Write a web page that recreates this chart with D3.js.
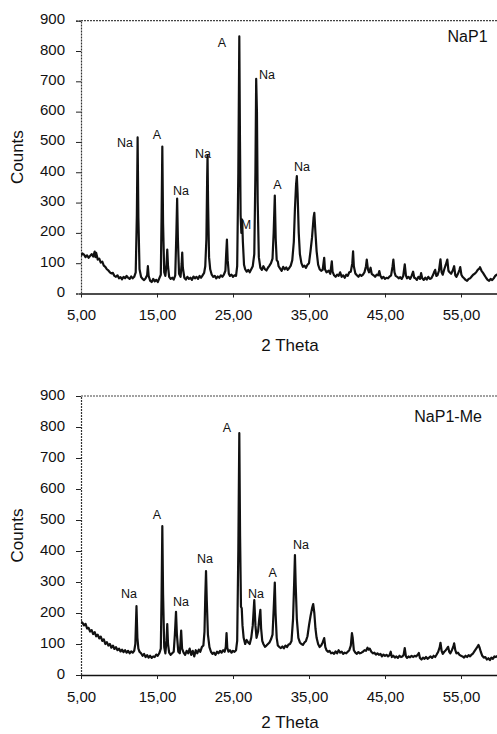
<!DOCTYPE html>
<html>
<head>
<meta charset="utf-8">
<script src="https://cdn.jsdelivr.net/npm/d3@7"></script>
<style>
  html, body { margin: 0; padding: 0; background: #fff; }
  svg { display: block; font-family: "Liberation Sans", Arial, sans-serif; }
</style>
</head>
<body>
<svg id="chart" width="497" height="734"></svg>
<script>
// ---------------- DATA ----------------
const xTicks = [5, 15, 25, 35, 45, 55];
const yTicks = [0, 100, 200, 300, 400, 500, 600, 700, 800, 900];
const xTitle = "2 Theta";
const yTitle = "Counts";
const panelNames = ["NaP1", "NaP1-Me"];

// NaP1 pattern [2theta, counts]
const nap1 = [
[5.0,125],[5.2,132],[5.4,128],[5.6,120],[5.8,126],[6.0,118],[6.2,124],[6.4,130],[6.6,122],[6.8,138],[6.9,120],[7.0,134],[7.2,112],[7.4,115],[7.6,102],[7.8,105],[8.0,92],[8.2,88],[8.4,80],[8.6,76],[8.8,70],[9.0,66],[9.2,68],[9.4,58],[9.6,55],[9.8,60],[10.0,50],[10.2,54],[10.4,47],[10.6,55],[10.8,50],[11.0,58],[11.2,52],[11.4,48],[11.6,56],[11.8,50],[12.0,55],[12.2,70],[12.35,260],[12.45,515],[12.55,250],[12.7,80],[12.9,55],[13.1,48],[13.3,44],[13.5,50],[13.7,60],[13.8,90],[13.9,58],[14.1,42],[14.3,38],[14.5,48],[14.7,40],[14.9,45],[15.1,38],[15.3,50],[15.5,62],[15.6,250],[15.7,485],[15.8,230],[15.95,70],[16.1,58],[16.25,95],[16.35,145],[16.45,90],[16.6,55],[16.8,48],[17.0,52],[17.2,46],[17.4,60],[17.55,200],[17.65,313],[17.75,180],[17.9,65],[18.1,55],[18.25,100],[18.32,135],[18.4,85],[18.6,52],[18.8,46],[19.0,55],[19.2,48],[19.4,52],[19.6,45],[19.8,56],[20.0,50],[20.2,55],[20.4,48],[20.6,58],[20.8,52],[21.0,60],[21.2,68],[21.35,90],[21.5,180],[21.6,380],[21.65,455],[21.72,300],[21.85,120],[22.0,80],[22.2,62],[22.4,55],[22.6,58],[22.8,50],[23.0,56],[23.2,52],[23.4,60],[23.6,55],[23.8,62],[24.0,75],[24.1,130],[24.2,178],[24.3,110],[24.45,65],[24.6,58],[24.8,62],[25.0,55],[25.2,60],[25.4,58],[25.55,90],[25.7,400],[25.83,848],[25.92,500],[26.0,260],[26.1,200],[26.2,244],[26.3,170],[26.45,95],[26.6,80],[26.8,72],[27.0,78],[27.2,70],[27.4,80],[27.6,90],[27.8,130],[27.95,400],[28.05,708],[28.15,600],[28.25,300],[28.4,120],[28.6,85],[28.8,78],[29.0,90],[29.2,80],[29.4,76],[29.6,85],[29.8,92],[30.0,100],[30.2,115],[30.35,200],[30.5,323],[30.62,180],[30.75,110],[30.9,105],[31.0,90],[31.2,82],[31.4,75],[31.6,88],[31.8,80],[32.0,86],[32.2,78],[32.4,84],[32.6,92],[32.8,110],[33.0,170],[33.15,280],[33.3,360],[33.4,387],[33.5,330],[33.65,200],[33.8,130],[34.0,100],[34.2,88],[34.4,92],[34.6,85],[34.8,95],[35.0,100],[35.2,140],[35.4,185],[35.6,250],[35.7,266],[35.85,200],[36.0,140],[36.2,95],[36.4,80],[36.6,75],[36.8,78],[37.0,118],[37.1,80],[37.3,70],[37.6,75],[37.8,65],[38.0,106],[38.1,72],[38.3,60],[38.5,55],[38.7,62],[38.9,58],[39.1,70],[39.3,55],[39.5,60],[39.7,52],[39.9,62],[40.1,58],[40.3,70],[40.5,72],[40.7,100],[40.8,139],[40.9,90],[41.1,66],[41.3,60],[41.5,55],[41.7,62],[41.9,58],[42.1,62],[42.3,70],[42.5,90],[42.6,112],[42.75,80],[42.9,70],[43.1,85],[43.25,65],[43.5,60],[43.7,55],[43.9,62],[44.1,60],[44.25,74],[44.4,58],[44.6,50],[44.8,55],[45.0,48],[45.2,52],[45.4,50],[45.6,56],[45.8,60],[46.0,90],[46.1,112],[46.25,70],[46.4,58],[46.6,55],[46.8,50],[47.0,54],[47.2,48],[47.4,58],[47.6,96],[47.75,60],[47.9,50],[48.1,55],[48.3,48],[48.5,58],[48.7,72],[48.85,52],[49.0,50],[49.2,45],[49.4,55],[49.6,48],[49.75,67],[49.9,50],[50.1,45],[50.3,52],[50.5,46],[50.7,55],[50.9,48],[51.1,50],[51.3,60],[51.45,70],[51.6,78],[51.75,58],[51.9,60],[52.1,75],[52.3,113],[52.45,70],[52.6,62],[52.8,80],[53.0,95],[53.2,112],[53.35,75],[53.5,70],[53.7,65],[53.9,75],[54.1,90],[54.25,60],[54.4,55],[54.6,65],[54.8,78],[54.9,87],[55.05,62],[55.2,55],[55.4,50],[55.6,45],[55.8,42],[56.0,48],[56.2,50],[56.4,56],[56.6,62],[56.8,65],[57.0,70],[57.2,78],[57.4,82],[57.5,87],[57.7,75],[57.9,68],[58.1,60],[58.3,52],[58.5,45],[58.7,42],[58.9,48],[59.1,44],[59.3,50],[59.5,58],[59.7,62],[59.9,60]
];

// NaP1-Me pattern [2theta, counts]
const nap1Me = [
[5.0,172],[5.2,168],[5.4,160],[5.6,165],[5.8,150],[6.0,152],[6.2,140],[6.4,145],[6.6,132],[6.8,138],[7.0,125],[7.2,130],[7.4,118],[7.6,124],[7.8,110],[8.0,115],[8.2,100],[8.4,106],[8.6,95],[8.8,100],[9.0,88],[9.2,95],[9.4,84],[9.6,90],[9.8,80],[10.0,85],[10.2,76],[10.4,82],[10.6,74],[10.8,80],[11.0,72],[11.2,78],[11.4,70],[11.6,76],[11.8,72],[12.0,78],[12.15,100],[12.3,222],[12.42,120],[12.55,85],[12.7,75],[12.9,70],[13.1,62],[13.3,68],[13.5,58],[13.7,64],[13.9,56],[14.1,62],[14.3,55],[14.5,60],[14.7,58],[14.9,66],[15.1,62],[15.3,70],[15.5,85],[15.6,250],[15.7,480],[15.8,260],[15.95,90],[16.1,70],[16.25,110],[16.35,164],[16.45,100],[16.6,72],[16.8,65],[17.0,70],[17.2,75],[17.35,130],[17.5,204],[17.62,130],[17.8,75],[18.0,70],[18.1,110],[18.18,143],[18.3,85],[18.5,72],[18.7,65],[18.9,78],[19.1,70],[19.3,85],[19.5,65],[19.7,78],[19.9,60],[20.1,80],[20.3,70],[20.5,82],[20.7,75],[20.9,90],[21.1,95],[21.25,140],[21.35,250],[21.45,335],[21.55,240],[21.7,130],[21.9,90],[22.1,75],[22.3,68],[22.5,72],[22.7,65],[22.9,75],[23.1,70],[23.3,78],[23.5,72],[23.7,80],[23.9,75],[24.05,90],[24.15,135],[24.25,88],[24.4,75],[24.6,80],[24.8,72],[25.0,78],[25.2,75],[25.4,80],[25.55,110],[25.7,400],[25.83,780],[25.93,450],[26.05,220],[26.15,215],[26.25,160],[26.4,120],[26.6,100],[26.8,113],[27.0,105],[27.2,100],[27.4,120],[27.6,160],[27.8,242],[27.95,160],[28.1,120],[28.3,140],[28.45,180],[28.6,210],[28.7,150],[28.85,110],[29.0,100],[29.2,91],[29.4,95],[29.6,100],[29.8,105],[30.0,115],[30.2,130],[30.35,210],[30.5,298],[30.6,200],[30.75,120],[30.9,95],[31.1,90],[31.3,87],[31.5,92],[31.7,86],[31.9,95],[32.1,90],[32.3,98],[32.5,100],[32.7,110],[32.9,180],[33.05,300],[33.15,387],[33.25,290],[33.4,180],[33.6,120],[33.8,105],[34.0,100],[34.2,97],[34.4,105],[34.6,110],[34.8,125],[35.0,160],[35.2,190],[35.4,215],[35.55,229],[35.7,200],[35.85,150],[36.0,120],[36.2,100],[36.4,90],[36.6,95],[36.8,105],[37.0,119],[37.15,90],[37.3,80],[37.5,75],[37.7,78],[37.9,70],[38.1,72],[38.3,68],[38.5,76],[38.7,70],[38.9,80],[39.1,72],[39.3,75],[39.5,68],[39.7,72],[39.9,70],[40.1,75],[40.3,80],[40.5,95],[40.65,135],[40.75,120],[40.9,80],[41.1,72],[41.3,68],[41.5,74],[41.7,70],[41.9,72],[42.1,75],[42.3,80],[42.5,78],[42.7,88],[42.85,82],[43.0,85],[43.2,75],[43.4,70],[43.6,72],[43.8,66],[44.0,70],[44.2,65],[44.4,68],[44.6,60],[44.8,66],[45.0,62],[45.2,65],[45.4,60],[45.6,64],[45.75,75],[45.9,58],[46.1,62],[46.3,56],[46.5,60],[46.7,55],[46.9,62],[47.1,58],[47.3,60],[47.45,65],[47.6,87],[47.75,60],[47.9,55],[48.1,60],[48.3,57],[48.5,62],[48.7,58],[48.9,62],[49.1,60],[49.3,65],[49.45,71],[49.6,55],[49.8,50],[50.0,56],[50.2,52],[50.4,58],[50.6,52],[50.8,56],[51.0,60],[51.2,55],[51.4,62],[51.6,58],[51.8,66],[52.0,75],[52.2,90],[52.3,104],[52.45,78],[52.6,68],[52.8,75],[53.0,80],[53.15,85],[53.3,91],[53.45,75],[53.6,70],[53.8,80],[54.0,92],[54.1,102],[54.25,80],[54.4,70],[54.6,72],[54.8,65],[55.0,62],[55.2,60],[55.4,56],[55.6,62],[55.8,58],[56.0,64],[56.2,60],[56.4,66],[56.6,70],[56.8,78],[57.0,85],[57.2,92],[57.3,97],[57.45,88],[57.6,75],[57.8,62],[58.0,56],[58.2,58],[58.4,50],[58.6,54],[58.8,48],[59.0,56],[59.2,52],[59.4,60],[59.6,58],[59.8,62],[60.0,59]
];

// Peak labels [text, 2theta, counts]
const nap1Labels = [
  ["Na", 10.8, 483], ["A", 15.0, 509], ["Na", 18.16, 325], ["Na", 21.05, 447],
  ["A", 23.55, 813], ["M", 26.7, 213], ["Na", 29.47, 707], ["A", 30.83, 345], ["Na", 34.08, 404]
];
const nap1MeLabels = [
  ["Na", 11.32, 248], ["A", 15.0, 503], ["Na", 18.16, 223], ["Na", 21.32, 361],
  ["A", 24.21, 784], ["Na", 28.03, 248], ["A", 30.22, 316], ["Na", 33.95, 406]
];
// panel name positions [2theta, counts]
const nameAt = [[55.86, 829], [53.3, 816]];

// ---------------- DRAW ----------------
const svg = d3.select("#chart");
const panels = [
  { data: nap1, labels: nap1Labels, top: 20.7, bottom: 293.5, titleY: 351, name: panelNames[0], nameAt: nameAt[0] },
  { data: nap1Me, labels: nap1MeLabels, top: 396, bottom: 675, titleY: 728, name: panelNames[1], nameAt: nameAt[1] }
];
const left = 81, right = 499;
const fmt = d => d3.format(".2f")(d).replace(".", ",");
const FONT = "'Liberation Sans', Arial, sans-serif";

panels.forEach((p, i) => {
  const x = d3.scaleLinear().domain([5, 60]).range([left, right]);
  const y = d3.scaleLinear().domain([0, 900]).range([p.bottom, p.top]);
  const g = svg.append("g");

  const cid = "clip" + i;
  svg.append("clipPath").attr("id", cid).append("rect")
    .attr("x", left).attr("y", p.top - 2).attr("width", right - left).attr("height", p.bottom - p.top + 2);

  // top border
  g.append("line").attr("x1", left).attr("x2", right).attr("y1", p.top).attr("y2", p.top)
    .attr("stroke", "#444").attr("stroke-width", 1.2).attr("stroke-dasharray", "2,1");

  // y axis
  const ya = g.append("g").attr("transform", `translate(${left},0)`)
    .call(d3.axisLeft(y).tickValues(yTicks).tickSize(5).tickPadding(11).tickFormat(d3.format("d")));
  ya.select(".domain").attr("stroke", "#333").attr("stroke-width", 1.2).attr("stroke-dasharray", "2,1");
  ya.selectAll(".tick line").attr("stroke", "#222");
  ya.selectAll("text").attr("font-size", 15).attr("fill", "#111").attr("dy", "0.2em")
    .attr("font-family", FONT);

  // x axis
  const xa = g.append("g").attr("transform", `translate(0,${p.bottom})`)
    .call(d3.axisBottom(x).tickValues(xTicks).tickSize(4).tickPadding(12).tickFormat(fmt).tickSizeOuter(0));
  xa.select(".domain").attr("stroke", "#111").attr("stroke-width", 1.3);
  xa.selectAll(".tick line").attr("stroke", "#222");
  xa.selectAll("text").attr("font-size", 15).attr("fill", "#111").attr("font-family", FONT);

  // pattern line
  const line = d3.line().x(d => x(d[0])).y(d => y(d[1]));
  g.append("path").datum(p.data).attr("clip-path", `url(#${cid})`)
    .attr("d", line).attr("fill", "none").attr("stroke", "#111")
    .attr("stroke-width", 2.2).attr("stroke-linejoin", "round");

  // peak labels
  g.selectAll("text.pk").data(p.labels).enter().append("text").attr("class", "pk")
    .attr("x", d => x(d[1])).attr("y", d => y(d[2]))
    .attr("text-anchor", "middle").attr("font-size", 12.5).attr("fill", "#111")
    .attr("font-family", FONT).text(d => d[0]);

  // panel name
  g.append("text").attr("x", x(p.nameAt[0])).attr("y", y(p.nameAt[1]))
    .attr("text-anchor", "middle").attr("font-size", 16).attr("fill", "#111")
    .attr("font-family", FONT).text(p.name);

  // axis titles
  g.append("text").attr("x", (left + right) / 2).attr("y", p.titleY)
    .attr("text-anchor", "middle").attr("font-size", 17).attr("fill", "#111")
    .attr("font-family", FONT).text(xTitle);
  g.append("text").attr("transform", `translate(23,${(p.top + p.bottom) / 2}) rotate(-90)`)
    .attr("text-anchor", "middle").attr("font-size", 17).attr("fill", "#111")
    .attr("font-family", FONT).text(yTitle);
});
</script>
</body>
</html>
